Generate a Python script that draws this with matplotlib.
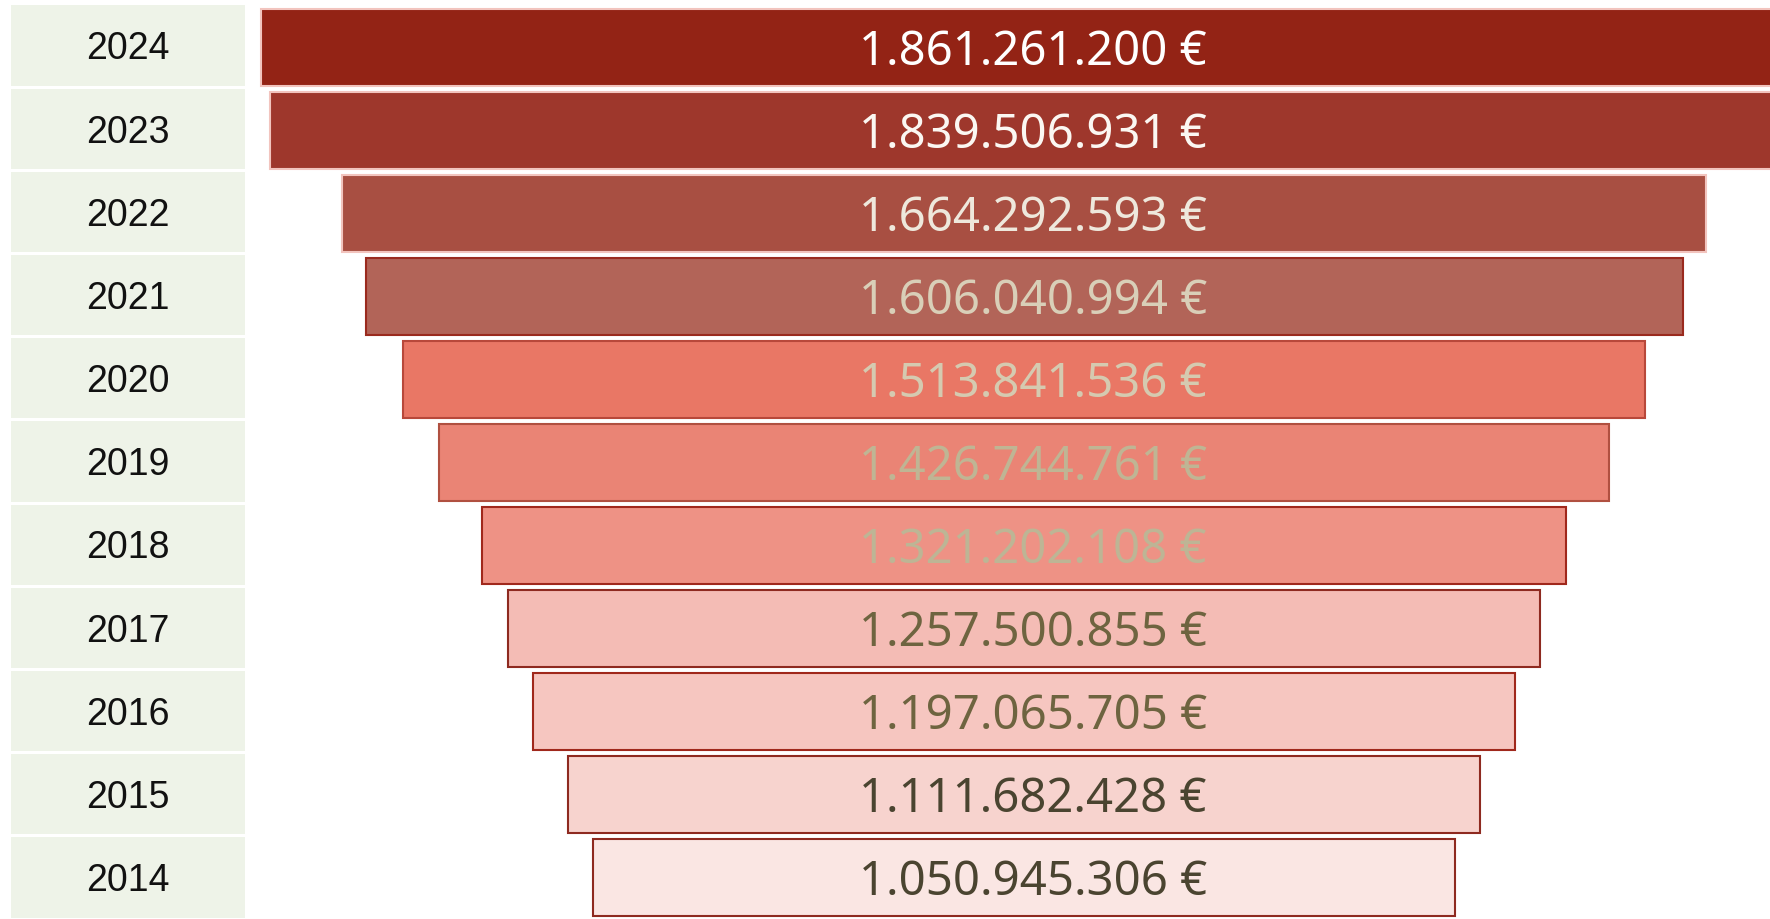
import matplotlib.pyplot as plt
import numpy as np

years = ["2024", "2023", "2022", "2021", "2020", "2019", "2018", "2017", "2016", "2015", "2014"]
values = [1861261200, 1839506931, 1664292593, 1606040994, 1513841536, 1426744761,
          1321202108, 1257500855, 1197065705, 1111682428, 1050945306]
fills = ["#932315", "#9E372C", "#A84F42", "#B26458", "#E97765", "#EA8475",
         "#EE9285", "#F4BCB5", "#F6C6C0", "#F7D3CE", "#FAE6E3"]
edges = ["#F2C4BE", "#F2C4BE", "#F2C4BE", "#9A2A1E", "#B8483A", "#B05040",
         "#A0281C", "#8E2A20", "#A0281C", "#8E2A20", "#8E2A20"]
txtcol = ["#FFFFFF", "#FBF7F2", "#EEE8DC", "#D9CFB8", "#D5CAB0", "#BFB594",
          "#BDB595", "#6E6440", "#6E6440", "#4A4430", "#4A4430"]


def fmt(v):
    return "{:,}".format(v).replace(",", ".") + " €"


fig = plt.figure(figsize=(17.7, 9.2), dpi=100)
fig.patch.set_facecolor("white")

n = len(years)
pos = np.arange(n)

# year label column
axl = fig.add_axes([11 / 1770, 0, 234 / 1770, 1 - 5 / 920])
axl.barh(pos, [1] * n, height=0.965, color="#EEF3E8", left=0)
for i, y in enumerate(years):
    axl.annotate(y, (0.5, i), xytext=(0, -2), textcoords="offset points",
                 ha="center", va="center", fontsize=27, color="#111111",
                 family="Liberation Sans")
axl.set_xlim(0, 1)
axl.set_ylim(n - 0.5, -0.5)
axl.axis("off")

# funnel bars
ax = fig.add_axes([0, 0, 1, 1 - 7 / 920])
vm = np.array(values) / 1e6
ax.barh(pos, vm, left=-vm / 2, height=0.93, color=fills, edgecolor=edges, linewidth=1.5)
for i, v in enumerate(values):
    ax.annotate(fmt(v), (0, i), xytext=(6.5, -3), textcoords="offset points",
                ha="center", va="center", fontsize=34, color=txtcol[i], family="Noto Sans")
ax.set_xlim(-1248.8, 909.7)
ax.set_ylim(n - 0.5, -0.5)
ax.axis("off")

fig.savefig("out.png", dpi=100)
